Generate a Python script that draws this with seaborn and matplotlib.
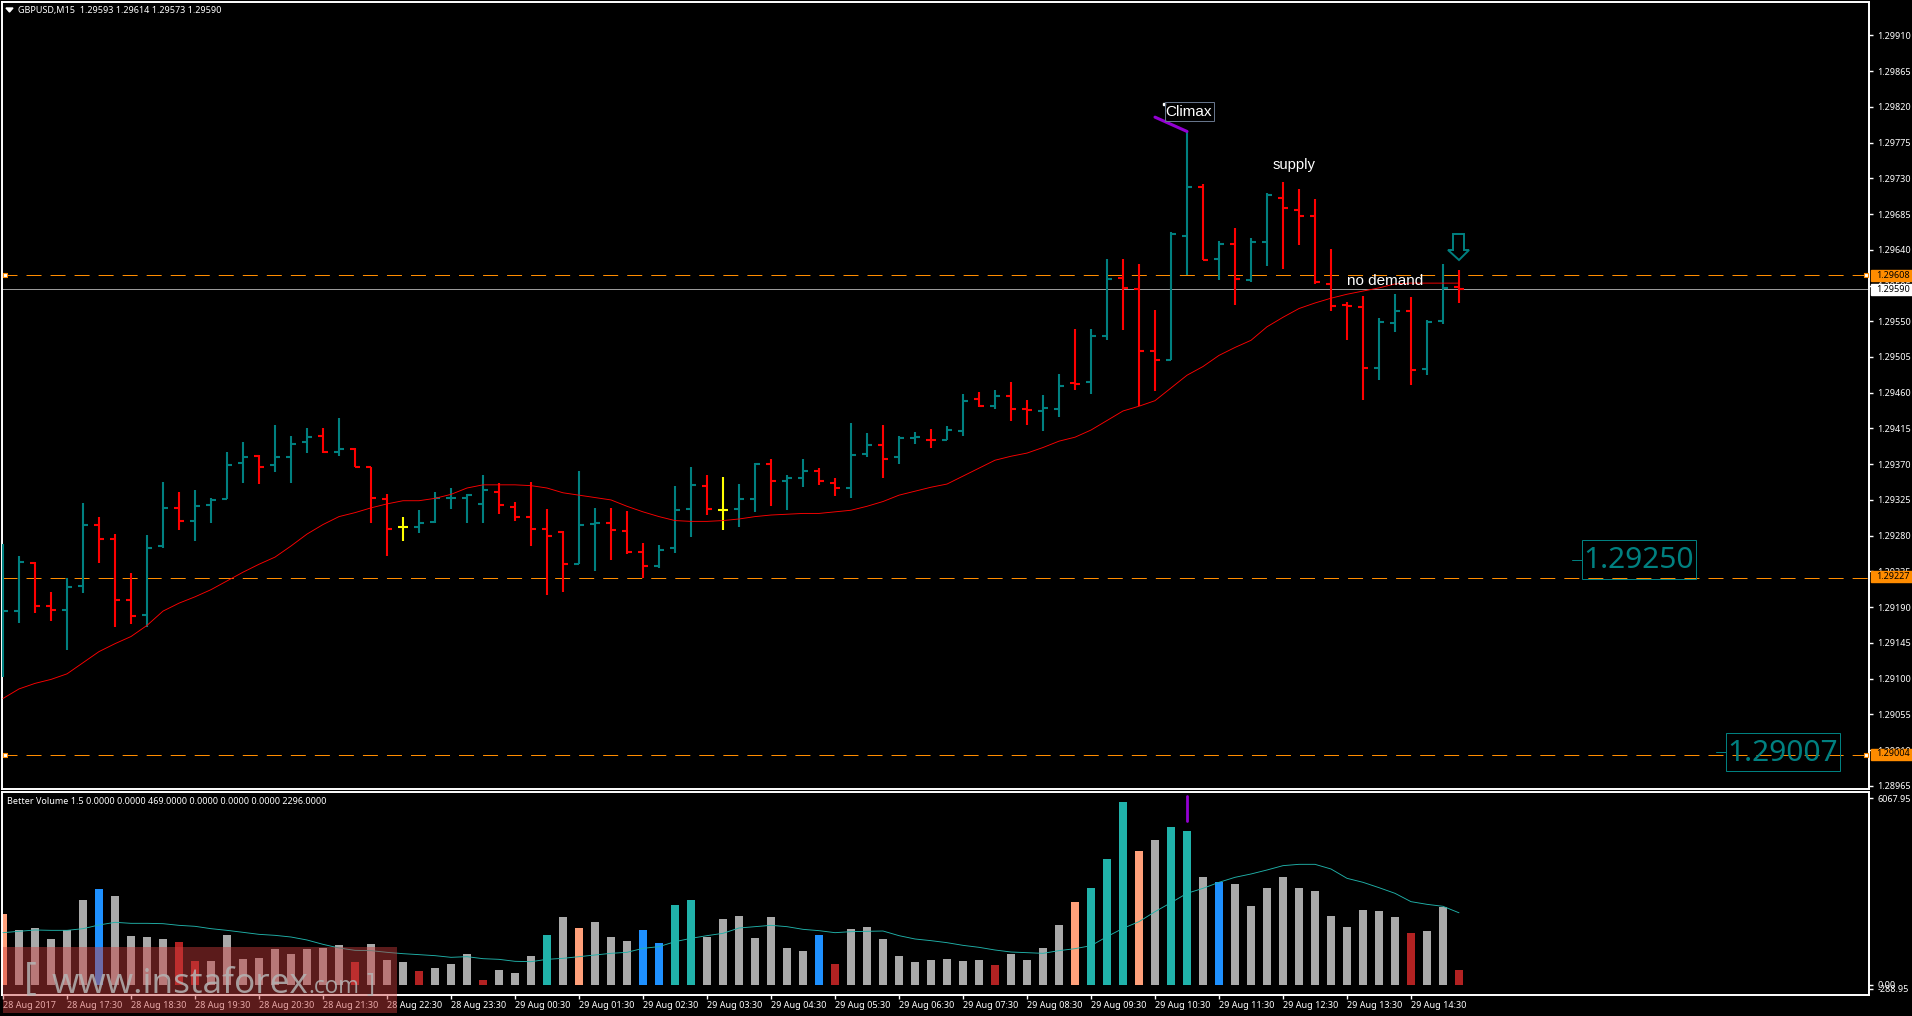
import numpy as np
import pandas as pd
import seaborn as sns
import matplotlib.pyplot as plt
from matplotlib.patches import Rectangle, Polygon

# GBPUSD M15 prices in points (1 point = 0.00001)
high_pts = [129270, 129255, 129247, 129209, 129227, 129321, 129304, 129282, 129233, 129281,
            129347, 129335, 129338, 129327, 129385, 129398, 129381, 129419, 129405, 129415,
            129415, 129428, 129390, 129367, 129333, 129303, 129312, 129335, 129340, 129332,
            129356, 129346, 129323, 129347, 129313, 129286, 129361, 129315, 129315, 129311,
            129271, 129268, 129342, 129367, 129356, 129354, 129345, 129372, 129376, 129357,
            129376, 129365, 129352, 129422, 129409, 129419, 129405, 129410, 129414, 129418,
            129459, 129461, 129464, 129473, 129451, 129457, 129483, 129540, 129540, 129629,
            129628, 129622, 129564, 129662, 129789, 129723, 129651, 129668, 129655, 129711,
            129725, 129717, 129704, 129641, 129574, 129582, 129554, 129584, 129580, 129551,
            129622, 129614]
low_pts = [129102, 129170, 129183, 129172, 129136, 129208, 129245, 129165, 129169, 129165,
           129265, 129287, 129273, 129296, 129326, 129346, 129345, 129360, 129346, 129384,
           129384, 129380, 129366, 129296, 129255, 129273, 129283, 129296, 129313, 129296,
           129296, 129307, 129299, 129267, 129205, 129209, 129244, 129235, 129249, 129257,
           129227, 129239, 129258, 129278, 129306, 129287, 129291, 129310, 129317, 129312,
           129341, 129344, 129330, 129327, 129379, 129352, 129370, 129396, 129390, 129400,
           129406, 129442, 129439, 129424, 129419, 129412, 129429, 129463, 129458, 129527,
           129539, 129443, 129462, 129501, 129608, 129627, 129602, 129571, 129599, 129619,
           129616, 129646, 129597, 129563, 129526, 129451, 129476, 129536, 129470, 129482,
           129546, 129573]
open_pts = [129150, 129185, 129246, 129191, 129187, 129216, 129293, 129276, 129199, 129180,
            129267, 129315, 129298, 129318, 129326, 129371, 129380, 129369, 129379, 129398,
            129405, 129385, 129389, 129366, 129326, 129291, 129291, 129297, 129327, 129328,
            129320, 129335, 129316, 129303, 129289, 129284, 129244, 129295, 129296, 129286,
            129259, 129242, 129264, 129313, 129342, 129312, 129313, 129326, 129370, 129349,
            129352, 129362, 129346, 129340, 129383, 129394, 129379, 129403, 129401, 129400,
            129412, 129452, 129443, 129456, 129439, 129437, 129439, 129472, 129473, 129532,
            129604, 129590, 129512, 129501, 129657, 129719, 129628, 129647, 129602, 129650,
            129705, 129690, 129682, 129597, 129570, 129568, 129491, 129548, 129563, 129490,
            129550, 129593]
close_pts = [129185, 129247, 129192, 129186, 129215, 129293, 129276, 129199, 129179, 129265,
             129315, 129298, 129317, 129325, 129369, 129379, 129367, 129379, 129396, 129404,
             129385, 129389, 129366, 129327, 129289, 129291, 129296, 129328, 129328, 129331,
             129338, 129318, 129303, 129289, 129279, 129244, 129294, 129296, 129287, 129260,
             129242, 129262, 129312, 129344, 129313, 129312, 129326, 129370, 129349, 129352,
             129362, 129349, 129340, 129381, 129394, 129376, 129403, 129404, 129400, 129413,
             129449, 129443, 129456, 129439, 129438, 129441, 129469, 129471, 129531, 129603,
             129592, 129512, 129501, 129660, 129719, 129627, 129647, 129603, 129650, 129709,
             129692, 129683, 129599, 129569, 129569, 129491, 129549, 129563, 129488, 129549,
             129592, 129590]
price_ma_pts = [129075, 129087, 129094, 129099, 129106, 129120, 129134, 129144, 129153, 129167,
                129185, 129195, 129203, 129212, 129223, 129234, 129244, 129253, 129267, 129282,
                129294, 129304, 129309, 129315, 129320, 129324, 129324, 129327, 129332, 129340,
                129344, 129344, 129344, 129343, 129340, 129334, 129331, 129328, 129325, 129317,
                129310, 129304, 129299, 129298, 129298, 129299, 129301, 129304, 129306, 129307,
                129308, 129308, 129310, 129312, 129317, 129323, 129331, 129336, 129341, 129345,
                129355, 129365, 129375, 129380, 129384, 129391, 129399, 129404, 129413, 129425,
                129437, 129443, 129450, 129466, 129482, 129493, 129507, 129517, 129526, 129543,
                129555, 129566, 129573, 129579, 129584, 129588, 129592, 129597, 129598, 129598,
                129598, 129598]

# Better Volume
volume = [2258, 1749, 1813, 1463, 1749, 2703, 3053, 2830, 1558, 1526,
          1463, 1367, 763, 763, 1590, 827, 859, 1145, 986, 1145,
          1177, 1272, 731, 1304, 795, 731, 445, 541, 668, 986,
          159, 477, 382, 922, 1590, 2162, 1813, 2003, 1526, 1399,
          1749, 1336, 2544, 2703, 1526, 2099, 2194, 1495, 2162, 1177,
          1081, 1590, 668, 1781, 1844, 1463, 922, 731, 795, 827,
          763, 795, 636, 986, 795, 1177, 1908, 2639, 3085, 4007,
          5819, 4261, 4611, 5024, 4897, 3434, 3275, 3212, 2512, 3085,
          3434, 3085, 2989, 2194, 1844, 2385, 2353, 2162, 1654, 1717,
          2491, 469]
volume_ma = [1664, 1707, 1749, 1738, 1738, 1791, 1908, 1993, 1961, 1961,
             1950, 1897, 1866, 1791, 1738, 1675, 1611, 1579, 1526, 1431,
             1293, 1177, 1102, 1092, 1039, 996, 965, 933, 880, 901,
             837, 816, 753, 742, 816, 848, 901, 954, 1007, 1039,
             1166, 1219, 1378, 1484, 1569, 1643, 1813, 1855, 1897, 1855,
             1770, 1728, 1664, 1696, 1707, 1717, 1569, 1463, 1410, 1346,
             1261, 1198, 1113, 1049, 1028, 1007, 1092, 1155, 1251, 1537,
             1802, 2014, 2332, 2618, 2915, 3074, 3265, 3424, 3530, 3657,
             3795, 3837, 3837, 3689, 3392, 3265, 3095, 2915, 2650, 2565,
             2502, 2296]
salmon_bars = [0, 36, 67, 71]
blue_bars = [6, 40, 41, 51, 76]
teal_bars = [34, 42, 43, 68, 69, 70, 73, 74]
red_bars = [11, 12, 22, 26, 30, 52, 62, 88, 91]

time_labels = ["28 Aug 2017", "28 Aug 17:30", "28 Aug 18:30", "28 Aug 19:30", "28 Aug 20:30",
               "28 Aug 21:30", "28 Aug 22:30", "28 Aug 23:30", "29 Aug 00:30", "29 Aug 01:30",
               "29 Aug 02:30", "29 Aug 03:30", "29 Aug 04:30", "29 Aug 05:30", "29 Aug 06:30",
               "29 Aug 07:30", "29 Aug 08:30", "29 Aug 09:30", "29 Aug 10:30", "29 Aug 11:30",
               "29 Aug 12:30", "29 Aug 13:30", "29 Aug 14:30"]
price_ticks_pts = [129910 - 45 * n for n in range(22)]
level_lines = [1.29608, 1.29227, 1.29004]
last_price = 1.29590

W, H = 1912, 1016
TEAL = "#008080"
ORANGE = "#FF8C00"

sns.set_theme(style="dark", rc={
    "axes.facecolor": "black",
    "figure.facecolor": "black",
    "axes.edgecolor": "white",
    "lines.scale_dashes": False,
})
plt.rcParams["font.family"] = ["Noto Sans", "DejaVu Sans"]


def fx(x):
    return x / W


def fy(y):
    return 1 - y / H


def pane(fig, left, top, right, bottom):
    ax = fig.add_axes([fx(left), fy(bottom), (right - left) / W, (bottom - top) / H])
    for s in ax.spines.values():
        s.set_linewidth(1.4)
    ax.set_xlim((left - 3) / 16, (right - 3) / 16)
    return ax


def fig_text(fig, x, y, s, **kw):
    kw.setdefault("color", "white")
    kw.setdefault("va", "center")
    return fig.text(fx(x), fy(y), s, **kw)


def fig_box(fig, x0, y0, x1, y1, **kw):
    r = Rectangle((fx(x0), fy(y1)), (x1 - x0) / W, (y1 - y0) / H, transform=fig.transFigure, **kw)
    fig.add_artist(r)
    return r


fig = plt.figure(figsize=(W / 100, H / 100), dpi=100)
ax = pane(fig, 2, 2, 1869, 789)
ax2 = pane(fig, 2, 792, 1869, 995)

df = pd.DataFrame({"high": high_pts, "low": low_pts, "open": open_pts, "close": close_pts}) / 100000
df["bar"] = np.arange(len(df))
df["ma"] = np.array(price_ma_pts) / 100000
df["color"] = np.where(df["close"] > df["open"], TEAL, np.where(df["close"] < df["open"], "#FF0000", "#FFFF00"))

# price pane
ax.set_ylim(1.28961, 1.29952)
for y in level_lines:
    ax.axhline(y, color=ORANGE, lw=0.72, ls=(0, (10.8, 6.5)), zorder=1)
ax.axhline(last_price, color="#9a9a9a", lw=0.72, zorder=1)
ax.vlines(df["bar"], df["low"], df["high"], colors=df["color"], lw=1.5, zorder=3)
ax.hlines(df["open"], df["bar"] - 0.31, df["bar"], colors=df["color"], lw=1.5, zorder=3)
ax.hlines(df["close"], df["bar"], df["bar"] + 0.31, colors=df["color"], lw=1.5, zorder=3)
sns.lineplot(data=df, x="bar", y="ma", ax=ax, color="#FF0000", lw=0.65, estimator=None, zorder=4)
ax.plot([72, 74], [1.29807, 1.29789], color="#9400D3", lw=2.2, solid_capstyle="round", zorder=5)
ax.plot([1.0 * (1164 - 3) / 16], [1.29824], marker="s", ms=2, color="white", zorder=5)
for y in [1.29608, 1.29004]:
    ax.plot([0.1, (1866 - 3) / 16], [y, y], ls="none", marker="s", ms=3.5, mfc="white", mec=ORANGE, mew=0.8, zorder=5)

ax.yaxis.tick_right()
ax.set_yticks([p / 100000 for p in price_ticks_pts])
ax.set_yticklabels(["%.5f" % (p / 100000) for p in price_ticks_pts])
ax.tick_params(axis="y", length=3, width=1, color="white", labelcolor="white", labelsize=6.5, pad=3, right=True)
ax.set_xticks([])
ax.set_xlabel("")
ax.set_ylabel("")

# volume pane
vol = pd.DataFrame({"bar": np.arange(len(volume)), "volume": volume, "ma": volume_ma})
vol["kind"] = "grey"
vol.loc[salmon_bars, "kind"] = "salmon"
vol.loc[blue_bars, "kind"] = "blue"
vol.loc[teal_bars, "kind"] = "teal"
vol.loc[red_bars, "kind"] = "red"
palette = {"grey": "#A9A9A9", "salmon": "#FFA07A", "blue": "#1E90FF", "teal": "#20B2AA", "red": "#B22222"}
sns.barplot(data=vol, x="bar", y="volume", hue="kind", palette=palette, dodge=False, native_scale=True,
            width=0.44, legend=False, ax=ax2, saturation=1, linewidth=0, zorder=2)
sns.lineplot(data=vol, x="bar", y="ma", ax=ax2, color="#20B2AA", lw=0.65, estimator=None, zorder=3)
ax2.plot([(1187 - 3) / 16] * 2, [5200, 6000], color="#9400D3", lw=2, solid_capstyle="round", zorder=4)
ax2.set_xlim((2 - 3) / 16, (1869 - 3) / 16)
ax2.set_ylim(-318, 6137)
ax2.yaxis.tick_right()
# the terminal draws these scale labels close together at the bottom of the pane
ax2.set_yticks([5940, 0, -127])
ax2.set_yticklabels(["6067.95", "0.00", "-288.95"])
ax2.tick_params(axis="y", length=3, width=1, color="white", labelcolor="white", labelsize=6.5, pad=3, right=True)
ax2.set_xticks(np.arange(len(time_labels)) * 4)
ax2.set_xticklabels(time_labels, ha="left")
ax2.tick_params(axis="x", length=3, width=1, color="white", labelcolor="white", labelsize=6.5, pad=1.5, bottom=True)
ax2.set_xlabel("")
ax2.set_ylabel("")

# header texts
fig.add_artist(Polygon([(fx(6), fy(8)), (fx(13), fy(8)), (fx(9.5), fy(12))], transform=fig.transFigure, color="white"))
fig_text(fig, 18, 10, "GBPUSD,M15  1.29593 1.29614 1.29573 1.29590", fontsize=6.5)
fig_text(fig, 7, 801, "Better Volume 1.5 0.0000 0.0000 469.0000 0.0000 0.0000 0.0000 2296.0000", fontsize=6.5)

# chart objects
label_font = ["Liberation Sans", "DejaVu Sans"]
fig_box(fig, 1165, 102, 1213.5, 120.5, fill=False, ec="#66748a", lw=0.72)
fig_text(fig, 1189, 111.5, "Climax", fontsize=11, family=label_font, ha="center")
fig_text(fig, 1294, 165, "supply", fontsize=10.7, family=label_font, ha="center")
fig_text(fig, 1385, 280.5, "no demand", fontsize=11, family=label_font, ha="center")
arrow_px = [(1453, 234), (1464, 234), (1464, 250), (1469, 250), (1459, 260), (1448, 250), (1453, 250)]
fig.add_artist(Polygon([(fx(x), fy(y)) for x, y in arrow_px], transform=fig.transFigure,
                       fill=False, ec=TEAL, lw=1.4))

for x0, y0, x1, y1, txt in [(1582, 540, 1696, 579, "1.29250"), (1726, 733, 1840, 771, "1.29007")]:
    fig_box(fig, x0, y0, x1, y1, fill=False, ec=TEAL, lw=0.72)
    fig_text(fig, (x0 + x1) / 2, (y0 + y1) / 2 + 1.5, txt, fontsize=21.5, color=TEAL, ha="center")
    fig.add_artist(plt.Line2D([fx(x0 - 10), fx(x0)], [fy((y0 + y1) / 2)] * 2, color=TEAL, lw=0.72,
                              transform=fig.transFigure))

# right side price tags
for y, bg, txt in [(275, ORANGE, "1.29608"), (289.5, "white", "1.29590"), (576.5, ORANGE, "1.29227"), (754, ORANGE, "1.29004")]:
    fig_box(fig, 1871, y - 5.5, 1912, y + 5.5, color=bg, zorder=5)
    fig_text(fig, 1876, y, txt, fontsize=6.5, color="black", zorder=6)

# watermark
fig_box(fig, 3, 947, 397, 1013, color="#CC3E3E", alpha=0.45, lw=0, zorder=7)
wm = "#B4B4B4"
wm_font = ["Open Sans", "DejaVu Sans"]
fig_text(fig, 52, 993, "www.instaforex", fontsize=25.4, family=wm_font, color=wm, alpha=0.85, va="baseline", zorder=8)
fig_text(fig, 308, 993, ".com", fontsize=16.3, family=wm_font, color=wm, alpha=0.85, va="baseline", zorder=8)
fig_text(fig, 24, 979, "[", fontsize=28, family=wm_font, color=wm, alpha=0.85, zorder=8)
fig_text(fig, 366, 984, "]", fontsize=18, family=wm_font, color=wm, alpha=0.85, zorder=8)

fig.savefig("out.png", dpi=100, facecolor="black")
